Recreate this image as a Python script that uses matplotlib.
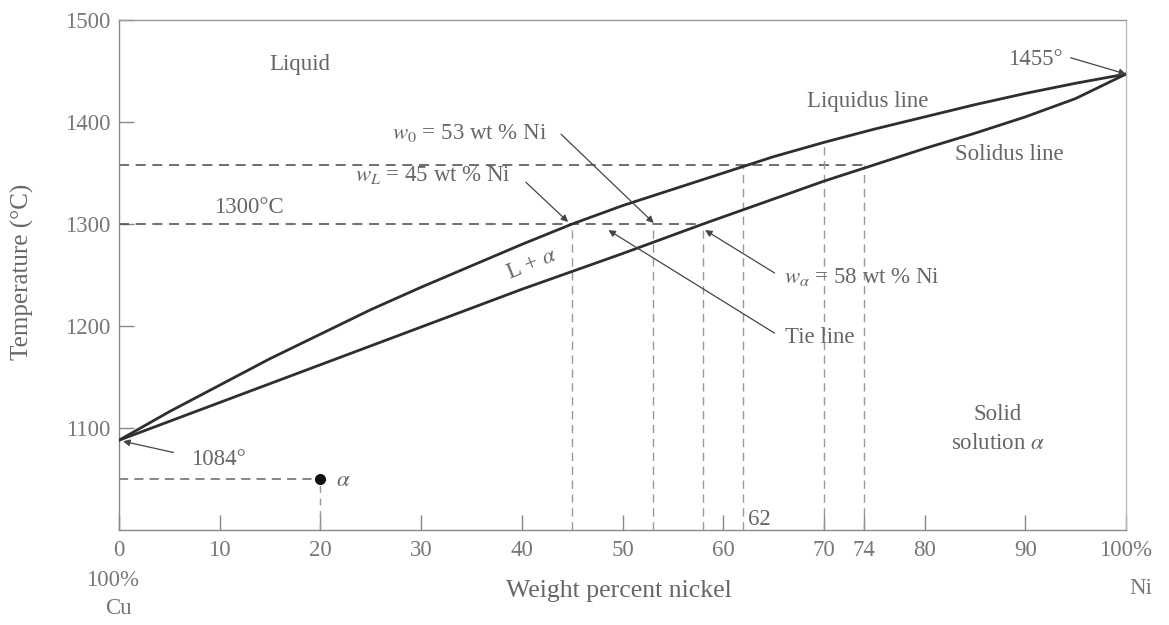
import numpy as np
import matplotlib
matplotlib.use("Agg")
import matplotlib.pyplot as plt

plt.rcParams['font.family'] = ['Liberation Serif', 'DejaVu Serif']
plt.rcParams['mathtext.fontset'] = 'stix'

# ---- data ----
liquidus_x = [0, 5, 10, 15, 20, 25, 30, 35, 40, 45, 50, 55, 60, 65, 70, 75, 80, 85, 90, 95, 100]
liquidus_T = [1088, 1116, 1142, 1168, 1192, 1216, 1238, 1259, 1280, 1300, 1318, 1334, 1350, 1366, 1380, 1393, 1405, 1417, 1428, 1438, 1447]
solidus_x = [0, 10, 20, 30, 40, 50, 58, 60, 70, 80, 85, 90, 95, 100]
solidus_T = [1088, 1125, 1162, 1199, 1236, 1271, 1300, 1307, 1342, 1374, 1389, 1405, 1423, 1447]

tie_T = [1300, 1358]
tie_end_x = [58, 74]
vline_x = [45, 53, 58, 62, 70, 74]
vline_top = [1300, 1300, 1300, 1358, 1380, 1358]
point_a = (20, 1050)

xticks = [0, 10, 20, 30, 40, 50, 60, 70, 74, 80, 90, 100]
xtick_labels = ['0', '10', '20', '30', '40', '50', '60', '70', '74', '80', '90', '100%']
yticks = [1100, 1200, 1300, 1400, 1500]

txt = '#666666'
line_c = '#2e2e2e'

fig = plt.figure(figsize=(11.69, 6.25), dpi=100)
ax = fig.add_axes([119/1169, 1 - 530/625, (1126-119)/1169, (530-20)/625])
ax.set_xlim(0, 100)
ax.set_ylim(1000, 1500)

# dashed guide lines
for T, xe in zip(tie_T, tie_end_x):
    ax.plot([0, xe], [T, T], ls=(0, (6, 4)), color='#555555', lw=1.2, zorder=2)
ax.plot([0, point_a[0]], [point_a[1], point_a[1]], ls=(0, (6, 4)), color='#666666', lw=1.1, zorder=2)
ax.plot([point_a[0], point_a[0]], [1000, point_a[1]], ls=(0, (5, 4)), color='#999999', lw=1.0, zorder=2)
for x, top in zip(vline_x, vline_top):
    ax.plot([x, x], [1000, top], ls=(0, (6, 4)), color='#999999', lw=1.0, zorder=2)

# curves
ax.plot(liquidus_x, liquidus_T, color=line_c, lw=2.0, zorder=3, solid_joinstyle='round')
ax.plot(solidus_x, solidus_T, color=line_c, lw=2.0, zorder=3, solid_joinstyle='round')

# point a
ax.plot(*point_a, 'o', color='#111111', ms=7, zorder=4)

fs = 16.5
def t(x, y, s, **kw):
    kw.setdefault('fontsize', fs)
    kw.setdefault('color', txt)
    kw.setdefault('ha', 'center')
    kw.setdefault('va', 'center')
    ax.text(x, y, s, **kw)

def arr(xy_text, xy):
    ax.annotate('', xy=xy, xytext=xy_text,
                arrowprops=dict(arrowstyle='-|>', color='#444444', lw=0.9,
                                mutation_scale=10, shrinkA=0, shrinkB=0), zorder=5)

t(18.0, 1456, 'Liquid')
t(74.3, 1420, 'Liquidus line')
t(88.4, 1368, 'Solidus line')
t(91.0, 1461, '1455°')
arr((94.5, 1463), (100, 1447))
t(34.8, 1389, '$w_0$ = 53 wt % Ni')
arr((43.9, 1388), (53.1, 1301))
t(31.2, 1348, '$w_L$ = 45 wt % Ni')
arr((40.4, 1341), (44.6, 1302))
t(12.9, 1316, '1300°C')
t(41.0, 1261, 'L + $\\alpha$', rotation=22)
t(66.0, 1248, '$w_\\alpha$ = 58 wt % Ni', ha='left')
arr((65.1, 1252), (58.2, 1294))
t(66.1, 1189, 'Tie line', ha='left')
arr((65.1, 1193), (48.6, 1294))
t(9.9, 1069, '1084°')
arr((5.4, 1076), (0.4, 1087))
t(87.3, 1113, 'Solid')
t(87.3, 1085, 'solution $\\alpha$')
t(62.5, 1010, '62', ha='left')
t(21.5, 1049, '$\\alpha$', ha='left')

# axes styling
for s in ax.spines.values():
    s.set_color('#888888')
    s.set_linewidth(1.0)
ax.spines['right'].set_color('#bbbbbb')
ax.spines['top'].set_color('#999999')
ax.set_xticks(xticks)
ax.set_xticklabels(xtick_labels)
ax.set_yticks(yticks)
ax.tick_params(direction='in', length=11, width=1, color='#888888',
               labelsize=16.5, labelcolor='#777777')
ax.tick_params(axis='x', pad=7)
ax.tick_params(axis='y', pad=6)

tl = dict(ha='center', va='center', fontsize=16.5, color='#777777')
fig.text(113/1169, 1 - 580/625, '100%', **tl)
fig.text(118/1169, 1 - 609/625, 'Cu', **tl)
fig.text(1141/1169, 1 - 588/625, 'Ni', **tl)
fig.text(619/1169, 1 - 591/625, 'Weight percent nickel', ha='center', va='center',
         fontsize=18.5, color='#666666')
fig.text(22/1169, 1 - 272/625, 'Temperature (°C)', ha='center', va='center', rotation=90,
         fontsize=18, color='#666666')

fig.savefig('out.png', dpi=100, facecolor='white')
